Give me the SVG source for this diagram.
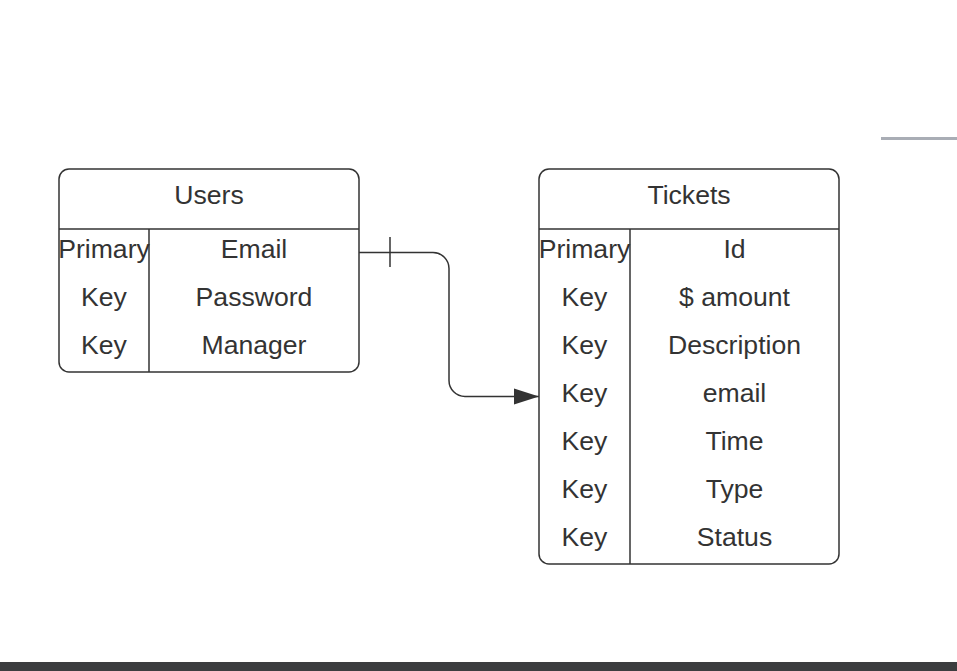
<svg xmlns="http://www.w3.org/2000/svg" width="957" height="671" viewBox="0 0 957 671">
<style>
.box{fill:#fff;stroke:#333;stroke-width:1.5}
.ln{stroke:#333;stroke-width:1.5;fill:none}
text{font-family:"Liberation Sans",Arial,sans-serif;font-size:26.6px;fill:#333;text-anchor:middle}
</style>
<defs>
<marker id="arr" markerWidth="26" markerHeight="18" refX="25" refY="9" orient="auto" markerUnits="userSpaceOnUse">
<path d="M0,1 L25,9 L0,17 Z" fill="#333"/>
</marker>
</defs>
<rect width="957" height="671" fill="#fff"/>
<line x1="881" y1="138.5" x2="957" y2="138.5" stroke="#a9adb5" stroke-width="3"/>
<rect x="0" y="662" width="957" height="9" fill="#3c3d3f"/>
<g id="users">
<rect class="box" x="59" y="169" width="300" height="203" rx="10"/>
<line class="ln" x1="59" y1="229" x2="359" y2="229"/>
<line class="ln" x1="149" y1="229" x2="149" y2="372"/>
<text x="209" y="204">Users</text>
<text x="104" y="258">Primary</text>
<text x="104" y="306">Key</text>
<text x="104" y="354">Key</text>
<text x="254" y="258">Email</text>
<text x="254" y="306">Password</text>
<text x="254" y="354">Manager</text>
</g>
<g id="tickets">
<rect class="box" x="539" y="169" width="300" height="395" rx="10"/>
<line class="ln" x1="539" y1="229" x2="839" y2="229"/>
<line class="ln" x1="630" y1="229" x2="630" y2="564"/>
<text x="689" y="204">Tickets</text>
<text x="584.5" y="258">Primary</text>
<text x="584.5" y="306">Key</text>
<text x="584.5" y="354">Key</text>
<text x="584.5" y="402">Key</text>
<text x="584.5" y="450">Key</text>
<text x="584.5" y="498">Key</text>
<text x="584.5" y="546">Key</text>
<text x="734.5" y="258">Id</text>
<text x="734.5" y="306">$ amount</text>
<text x="734.5" y="354">Description</text>
<text x="734.5" y="402">email</text>
<text x="734.5" y="450">Time</text>
<text x="734.5" y="498">Type</text>
<text x="734.5" y="546">Status</text>
</g>
<g id="connectors">
<path class="ln" d="M359,252.5 H433 A16,16 0 0 1 449,268.5 V380.5 A16,16 0 0 0 465,396.5 H539" marker-end="url(#arr)"/>
<line class="ln" x1="390" y1="237" x2="390" y2="267"/>
</g>
</svg>
